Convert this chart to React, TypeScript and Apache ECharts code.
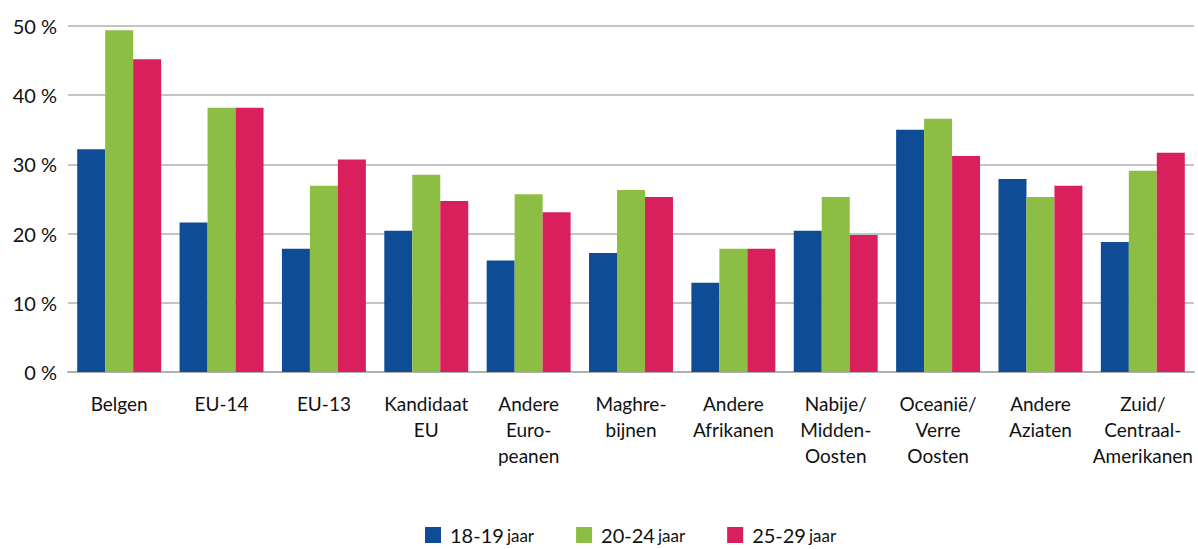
import React, { useEffect, useRef } from "react";
import * as echarts from "echarts";

const categories = [
  "Belgen",
  "EU-14",
  "EU-13",
  "Kandidaat\nEU",
  "Andere\nEuro-\npeanen",
  "Maghre-\nbijnen",
  "Andere\nAfrikanen",
  "Nabije/\nMidden-\nOosten",
  "Oceanië/\nVerre\nOosten",
  "Andere\nAziaten",
  "Zuid/\nCentraal-\nAmerikanen",
];

const age1819 = [32.2, 21.6, 17.8, 20.4, 16.1, 17.2, 12.9, 20.4, 35.0, 27.9, 18.8];
const age2024 = [49.4, 38.2, 26.9, 28.5, 25.7, 26.3, 17.8, 25.3, 36.6, 25.3, 29.1];
const age2529 = [45.2, 38.2, 30.7, 24.7, 23.1, 25.3, 17.8, 19.8, 31.2, 26.9, 31.7];

const seriesNames = ["18-19 jaar", "20-24 jaar", "25-29 jaar"];
const yTicks = { min: 0, max: 50, interval: 10 };

const FONT = "Lato, 'Open Sans', sans-serif";

export default function App() {
  const ref = useRef<HTMLDivElement>(null);
  useEffect(() => {
    document.body.style.margin = "0";
    const chart = echarts.init(ref.current!, null, { renderer: "svg" });
    const colors = ["#0f4c96", "#8cbe43", "#d91f5c"];
    const data = [age1819, age2024, age2529];
    chart.setOption({
      animation: false,
      textStyle: { fontFamily: FONT },
      grid: { left: 68, right: 4, top: 26, bottom: 177 },
      legend: {
        top: 525,
        left: 425,
        padding: 0,
        itemWidth: 16,
        itemHeight: 16,
        itemGap: 42,
        icon: "rect",
        data: seriesNames,
        formatter: (name: string) => {
          const [a, b] = name.split(" ");
          return `{a|${a}} {b|${b}}`;
        },
        textStyle: {
          rich: {
            a: { fontSize: 20, color: "#111", fontFamily: FONT, padding: [0, 0, 0, 4] },
            b: { fontSize: 17, color: "#111", fontFamily: FONT },
          },
        },
      },
      xAxis: {
        type: "category",
        data: categories,
        axisLine: { lineStyle: { color: "#b0b0b0", width: 2 } },
        axisTick: { length: 9, lineStyle: { color: "#b0b0b0", width: 2 } },
        axisLabel: {
          interval: 0,
          margin: 18,
          fontSize: 19,
          lineHeight: 26,
          color: "#111",
          fontFamily: FONT,
        },
      },
      yAxis: {
        type: "value",
        min: yTicks.min,
        max: yTicks.max,
        interval: yTicks.interval,
        axisLine: { show: false },
        axisTick: { show: false },
        splitLine: { lineStyle: { color: "#b0b0b0", width: 1.5 } },
        axisLabel: {
          formatter: "{value} %",
          fontSize: 20,
          margin: 11,
          color: "#111",
          fontFamily: FONT,
        },
      },
      series: seriesNames.map((n, i) => ({
        name: n,
        type: "bar",
        data: data[i],
        barGap: "0%",
        barCategoryGap: "18%",
        itemStyle: { color: colors[i] },
      })),
    });
    return () => chart.dispose();
  }, []);
  return <div ref={ref} style={{ width: 1198, height: 549 }} />;
}
